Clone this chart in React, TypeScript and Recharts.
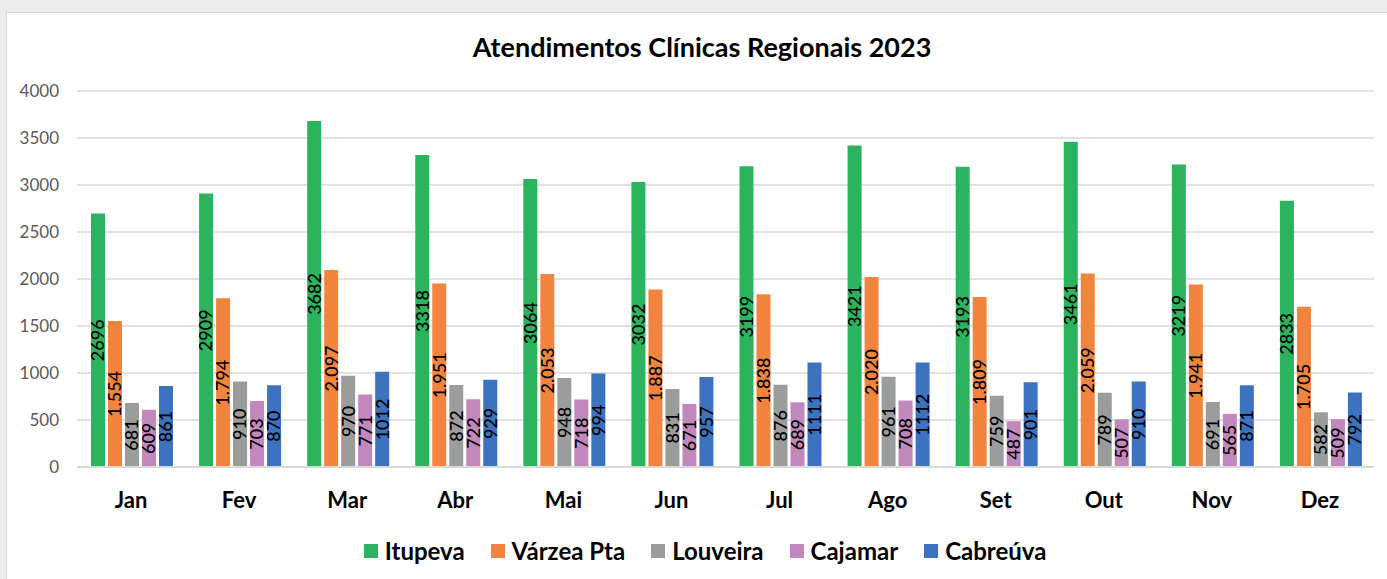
import React from "react";
import { BarChart, Bar, XAxis, YAxis, CartesianGrid, LabelList } from "recharts";

const months = ["Jan", "Fev", "Mar", "Abr", "Mai", "Jun", "Jul", "Ago", "Set", "Out", "Nov", "Dez"];
const itupeva = [2696, 2909, 3682, 3318, 3064, 3032, 3199, 3421, 3193, 3461, 3219, 2833];
const varzeaPta = [1554, 1794, 2097, 1951, 2053, 1887, 1838, 2020, 1809, 2059, 1941, 1705];
const louveira = [681, 910, 970, 872, 948, 831, 876, 961, 759, 789, 691, 582];
const cajamar = [609, 703, 771, 722, 718, 671, 689, 708, 487, 507, 565, 509];
const cabreuva = [861, 870, 1012, 929, 994, 957, 1111, 1112, 901, 910, 871, 792];
const yTicks = [0, 500, 1000, 1500, 2000, 2500, 3000, 3500, 4000];

const series = [
  { key: "itupeva", name: "Itupeva", color: "#2BB35E", values: itupeva, dotted: false },
  { key: "varzea", name: "Várzea Pta", color: "#F3843D", values: varzeaPta, dotted: true },
  { key: "louveira", name: "Louveira", color: "#9B9D9C", values: louveira, dotted: false },
  { key: "cajamar", name: "Cajamar", color: "#C287BD", values: cajamar, dotted: false },
  { key: "cabreuva", name: "Cabreúva", color: "#3D72BE", values: cabreuva, dotted: false },
];

const data = months.map((m, i) => {
  const row: any = { month: m };
  series.forEach((s) => (row[s.key] = s.values[i]));
  return row;
});

const FONT = "Lato, 'Open Sans', sans-serif";

const fmtDot = (v: any) => {
  const n = Number(v);
  const s = String(n);
  return s.length > 3 ? s.slice(0, s.length - 3) + "." + s.slice(s.length - 3) : s;
};

export default function App() {
  return (
    <div
      style={{
        position: "absolute",
        left: 0,
        top: 0,
        width: 1387,
        height: 579,
        background: "#ECEEED",
        overflow: "hidden",
        fontFamily: FONT,
      }}
    >
      <div
        style={{
          position: "absolute",
          left: 6,
          top: 12,
          width: 1400,
          height: 600,
          background: "#FFFFFF",
          border: "1px solid #D5D7D6",
        }}
      />
      <div
        style={{
          position: "absolute",
          left: 0,
          top: 30,
          width: 1404,
          textAlign: "center",
          fontSize: 27,
          fontWeight: 700,
          color: "#000",
          lineHeight: "34px",
        }}
      >
        Atendimentos Clínicas Regionais 2023
      </div>
      <div style={{ position: "absolute", left: 0, top: 0 }}>
        <BarChart
          width={1387}
          height={579}
          data={data}
          margin={{ top: 91, right: 13, bottom: 82, left: 0 }}
          barCategoryGap={14}
          barGap={3}
        >
          <CartesianGrid vertical={false} stroke="#D9D9D9" strokeWidth={1.5} />
          <XAxis
            dataKey="month"
            height={30}
            tickLine={false}
            tickSize={0}
            tickMargin={25}
            axisLine={{ stroke: "#D9D9D9", strokeWidth: 2 }}
            tick={{ fill: "#000", fontSize: 22, fontWeight: 700, fontFamily: FONT }}
          />
          <YAxis
            width={77}
            domain={[0, 4000]}
            ticks={yTicks}
            axisLine={false}
            tickLine={false}
            tickSize={0}
            tickMargin={18}
            tick={{ fill: "#595959", fontSize: 17, fontFamily: FONT }}
          />
          {series.map((s) => (
            <Bar key={s.key} dataKey={s.key} name={s.name} fill={s.color} isAnimationActive={false}>
              <LabelList
                dataKey={s.key}
                position="center"
                angle={-90}
                formatter={s.dotted ? fmtDot : undefined}
                style={{ fill: "#000", fontSize: 18, fontFamily: FONT, fontWeight: 500 }}
              />
            </Bar>
          ))}
        </BarChart>
      </div>
      <div
        style={{
          position: "absolute",
          left: 0,
          top: 536,
          width: 1410,
          display: "flex",
          justifyContent: "center",
          alignItems: "center",
          gap: 26,
        }}
      >
        {series.map((s) => (
          <div key={s.key} style={{ display: "flex", alignItems: "center" }}>
            <div style={{ width: 14, height: 14, background: s.color, marginRight: 7 }} />
            <span style={{ fontSize: 24, fontWeight: 700, color: "#000", lineHeight: "30px" }}>{s.name}</span>
          </div>
        ))}
      </div>
    </div>
  );
}
